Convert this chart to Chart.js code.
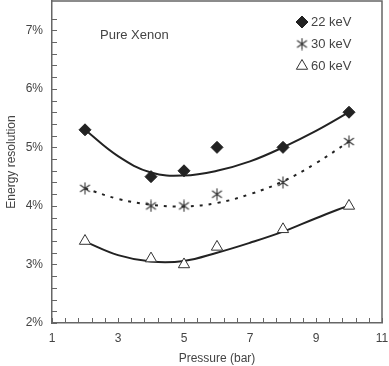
<!DOCTYPE html>
<html lang="en">
<head>
    <meta charset="UTF-8">
    <title>Energy resolution vs pressure</title>
    <script src="https://cdn.jsdelivr.net/npm/chart.js"></script>
    <style>
        html, body { margin: 0; padding: 0; background: #fff; }
        .chart-box { position: relative; width: 389px; height: 366px; }
    </style>
</head>
<body>
    <div class="chart-box">
        <canvas id="resChart"></canvas>
    </div>
    <script>
        // measured points
        const pressures = [2, 4, 5, 6, 8, 10];
        const res22 = [5.3, 4.5, 4.6, 5.0, 5.0, 5.6];
        const res30 = [4.3, 4.0, 4.0, 4.2, 4.4, 5.1];
        const res60 = [3.4, 3.1, 3.0, 3.3, 3.6, 4.0];

        // fitted curves
        const fitX = [2, 3, 4, 5, 6, 7, 8, 9, 10];
        const fit22 = [5.30, 4.85, 4.57, 4.52, 4.60, 4.76, 5.00, 5.28, 5.60];
        const fit30 = [4.30, 4.12, 4.02, 3.99, 4.05, 4.20, 4.42, 4.73, 5.10];
        const fit60 = [3.39, 3.16, 3.05, 3.06, 3.20, 3.37, 3.56, 3.79, 4.01];

        const xLabels = [1, 3, 5, 7, 9, 11];
        const yLabels = [2, 3, 4, 5, 6, 7];
        const seriesNames = ['22 keV', '30 keV', '60 keV'];

        const ink = '#222';
        const axisColor = '#666';
        const textColor = '#444';
        const fontFamily = '"Liberation Sans", Arial, sans-serif';

        function toPoints(xs, ys) {
            return xs.map((x, i) => ({ x: x, y: ys[i] }));
        }

        // 6-armed asterisk marker
        function makeAsterisk(size) {
            const c = document.createElement('canvas');
            c.width = size; c.height = size;
            const g = c.getContext('2d');
            const r = size / 2 - 0.5;
            g.strokeStyle = '#333';
            g.lineWidth = 1.1;
            g.beginPath();
            [90, 35, 145].forEach(a => {
                const rad = a * Math.PI / 180;
                g.moveTo(size / 2 - Math.cos(rad) * r, size / 2 - Math.sin(rad) * r);
                g.lineTo(size / 2 + Math.cos(rad) * r, size / 2 + Math.sin(rad) * r);
            });
            g.stroke();
            return c;
        }
        const asterisk = makeAsterisk(13);

        const markerStyles = [
            { pointStyle: 'rectRot', pointRadius: 6, backgroundColor: ink, borderColor: ink, borderWidth: 1 },
            { pointStyle: asterisk, pointRadius: 6, backgroundColor: '#333', borderColor: '#333', borderWidth: 1 },
            { pointStyle: 'triangle', pointRadius: 6.5, backgroundColor: '#fff', borderColor: '#333', borderWidth: 1 }
        ];

        // frame, inward ticks, labels inside the plot
        const decorPlugin = {
            id: 'decor',
            afterDraw(chart) {
                const ctx = chart.ctx;
                const a = chart.chartArea;
                const xs = chart.scales.x, ys = chart.scales.y;
                ctx.save();
                ctx.strokeStyle = axisColor;
                ctx.lineWidth = 1.5;
                ctx.beginPath();
                ctx.moveTo(a.left, a.top);
                ctx.lineTo(a.right, a.top);
                ctx.lineTo(a.right, a.bottom);
                ctx.stroke();

                ctx.lineWidth = 1;
                ctx.beginPath();
                xs.ticks.forEach(t => {
                    const px = Math.round(xs.getPixelForValue(t.value)) + 0.5;
                    ctx.moveTo(px, a.bottom);
                    ctx.lineTo(px, a.bottom - 5);
                });
                ys.ticks.forEach(t => {
                    if (Math.abs(t.value * 5 - Math.round(t.value * 5)) > 1e-6) return;
                    const py = Math.round(ys.getPixelForValue(t.value)) + 0.5;
                    ctx.moveTo(a.left, py);
                    ctx.lineTo(a.left + 5, py);
                });
                ctx.stroke();

                ctx.fillStyle = textColor;
                ctx.font = '13px ' + fontFamily;
                ctx.textBaseline = 'middle';
                ctx.textAlign = 'left';
                ctx.fillText('Pure Xenon', 100, 35);

                seriesNames.forEach((name, i) => {
                    const ly = 22 + i * 22;
                    const st = markerStyles[i];
                    ctx.fillStyle = st.backgroundColor;
                    ctx.strokeStyle = st.borderColor;
                    ctx.lineWidth = st.borderWidth;
                    Chart.helpers.drawPoint(ctx, {
                        pointStyle: st.pointStyle,
                        radius: st.pointRadius,
                        borderWidth: st.borderWidth,
                        rotation: 0
                    }, 302, ly);
                    ctx.fillStyle = textColor;
                    ctx.fillText(name, 311, ly);
                });
                ctx.restore();
            }
        };

        const ctx = document.getElementById('resChart').getContext('2d');
        const resChart = new Chart(ctx, {
            type: 'scatter',
            data: {
                datasets: [
                    Object.assign({ label: seriesNames[0], data: toPoints(pressures, res22), showLine: false }, markerStyles[0]),
                    Object.assign({ label: seriesNames[1], data: toPoints(pressures, res30), showLine: false }, markerStyles[1]),
                    Object.assign({ label: seriesNames[2], data: toPoints(pressures, res60), showLine: false }, markerStyles[2]),
                    {
                        label: 'fit 22', data: toPoints(fitX, fit22), showLine: true,
                        borderColor: ink, borderWidth: 2, pointRadius: 0, tension: 0.4
                    },
                    {
                        label: 'fit 30', data: toPoints(fitX, fit30), showLine: true,
                        borderColor: ink, borderWidth: 2, borderDash: [3, 6], pointRadius: 0, tension: 0.4
                    },
                    {
                        label: 'fit 60', data: toPoints(fitX, fit60), showLine: true,
                        borderColor: ink, borderWidth: 2, pointRadius: 0, tension: 0.4
                    }
                ]
            },
            options: {
                responsive: true,
                maintainAspectRatio: false,
                animation: false,
                layout: { autoPadding: false, padding: { top: 1, right: 7, left: 0, bottom: 0 } },
                plugins: {
                    legend: { display: false },
                    tooltip: { enabled: false }
                },
                scales: {
                    x: {
                        type: 'linear',
                        min: 1, max: 11,
                        grid: { display: false, drawTicks: false },
                        border: { display: true, color: axisColor, width: 1.5 },
                        ticks: {
                            stepSize: 0.4,
                            autoSkip: false,
                            maxRotation: 0,
                            padding: 8,
                            color: textColor,
                            font: { family: fontFamily, size: 12 },
                            callback: v => xLabels.some(l => Math.abs(l - v) < 1e-6) ? String(Math.round(v)) : ''
                        },
                        title: {
                            display: true, text: 'Pressure (bar)', color: textColor,
                            font: { family: fontFamily, size: 12 }, padding: { top: 2, bottom: 0 }
                        },
                        afterFit: s => {
                            s.height = 43;
                            s.paddingLeft = 0;
                            s.paddingRight = 0;
                        }
                    },
                    y: {
                        type: 'linear',
                        min: 2, max: 7.5,
                        grid: { display: false, drawTicks: false },
                        border: { display: true, color: axisColor, width: 1.5 },
                        ticks: {
                            stepSize: 0.2,
                            autoSkip: false,
                            padding: 9,
                            color: textColor,
                            font: { family: fontFamily, size: 12 },
                            callback: v => yLabels.some(l => Math.abs(l - v) < 1e-6) ? Math.round(v) + '%' : ''
                        },
                        title: {
                            display: true, text: 'Energy resolution', color: textColor,
                            font: { family: fontFamily, size: 12 }, padding: { top: 4, bottom: 0 }
                        },
                        afterFit: s => {
                            s.width = 52;
                            s.paddingTop = 0;
                            s.paddingBottom = 0;
                        }
                    }
                }
            },
            plugins: [decorPlugin]
        });
    </script>
</body>
</html>
